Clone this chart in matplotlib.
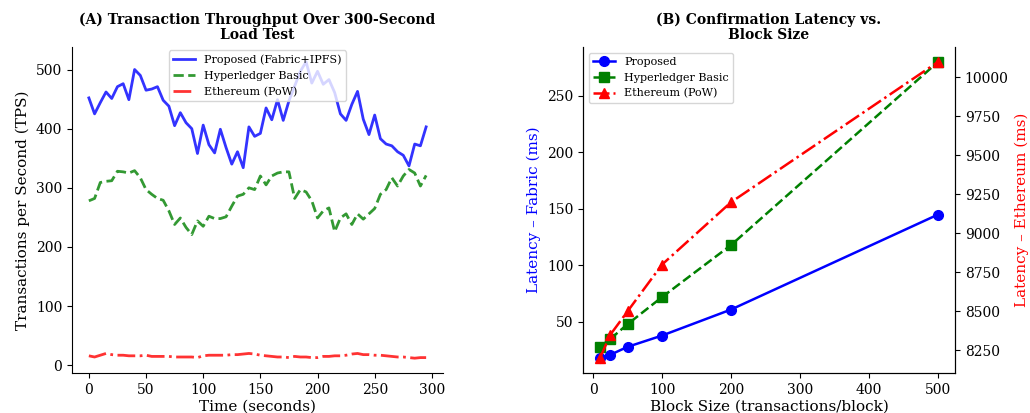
import matplotlib
matplotlib.use("Agg")
import matplotlib.pyplot as plt
import numpy as np

plt.rcParams['font.family'] = ['DejaVu Serif']

# ---- Panel A data ----
time_s = list(range(0, 300, 5))
proposed_tps = [452, 425, 444, 462, 451, 471, 476, 449, 500, 490,
                465, 467, 471, 448, 438, 405, 427, 410, 400, 358,
                406, 373, 359, 399, 368, 340, 361, 334, 403, 387,
                392, 435, 415, 449, 414, 447, 472, 497, 513, 477,
                497, 475, 483, 461, 425, 414, 441, 463, 416, 390,
                423, 383, 374, 371, 361, 355, 337, 374, 371, 403]
hyperledger_tps = [278, 282, 309, 311, 312, 328, 327, 325, 329, 317,
                   297, 289, 282, 279, 261, 238, 249, 233, 221, 244,
                   235, 252, 248, 248, 251, 269, 286, 289, 300, 297,
                   320, 305, 320, 325, 327, 327, 282, 297, 293, 278,
                   249, 261, 266, 226, 249, 256, 238, 256, 247, 256,
                   265, 289, 297, 317, 303, 320, 331, 325, 303, 321]
ethereum_tps = [16, 14, 17, 20, 18, 17, 17, 16, 16, 16,
                17, 15, 15, 15, 15, 14, 14, 14, 14, 13,
                16, 17, 17, 17, 17, 18, 18, 19, 20, 19,
                17, 16, 15, 14, 14, 13, 15, 14, 14, 13,
                13, 15, 15, 16, 16, 17, 19, 20, 18, 18,
                17, 17, 16, 15, 14, 14, 13, 12, 13, 13]

# ---- Panel B data ----
block_sizes = [10, 25, 50, 100, 200, 500]
fabric_latency = [18, 21, 28, 38, 61, 145]
hyperledger_latency = [28, 35, 48, 72, 118, 280]
ethereum_latency = [8200, 8350, 8500, 8800, 9200, 10100]

fig = plt.figure(figsize=(10.30, 4.13), dpi=100)
W, H = 1030, 413

axA = fig.add_axes([72 / W, (H - 373) / H, 371 / W, 326 / H])
axA.plot(time_s, proposed_tps, color='blue', alpha=0.8, lw=2,
         label='Proposed (Fabric+IPFS)')
axA.plot(time_s, hyperledger_tps, color='green', alpha=0.8, lw=2,
         ls='--', label='Hyperledger Basic')
axA.plot(time_s, ethereum_tps, color='red', alpha=0.8, lw=2,
         ls='-.', label='Ethereum (PoW)')
axA.set_title('(A) Transaction Throughput Over 300-Second\nLoad Test',
              fontsize=10, fontweight='bold', pad=6, linespacing=1.05)
axA.set_xlabel('Time (seconds)', fontsize=11, labelpad=2)
axA.set_ylabel('Transactions per Second (TPS)', fontsize=11)
axA.legend(loc='upper center', fontsize=8, borderaxespad=0.3)
axA.tick_params(labelsize=10)
axA.spines['top'].set_visible(False)
axA.spines['right'].set_visible(False)

axB = fig.add_axes([583 / W, (H - 373) / H, 372 / W, 326 / H])
l1, = axB.plot(block_sizes, fabric_latency, color='blue', lw=1.8,
               marker='o', ms=7, label='Proposed')
l2, = axB.plot(block_sizes, hyperledger_latency, color='green', lw=1.8,
               ls='--', marker='s', ms=7, label='Hyperledger Basic')
axB2 = axB.twinx()
l3, = axB2.plot(block_sizes, ethereum_latency, color='red', lw=1.8,
                ls='-.', marker='^', ms=7, label='Ethereum (PoW)')
axB.set_title('(B) Confirmation Latency vs.\nBlock Size',
              fontsize=10, fontweight='bold', pad=6, linespacing=1.05)
axB.set_xlabel('Block Size (transactions/block)', fontsize=11, labelpad=2)
axB.set_ylabel('Latency – Fabric (ms)', fontsize=11, color='blue')
axB2.set_ylabel('Latency – Ethereum (ms)', fontsize=11, color='red')
axB.tick_params(labelsize=10)
axB2.tick_params(labelsize=10)
axB.legend([l1, l2, l3], [l.get_label() for l in (l1, l2, l3)],
           loc='upper left', fontsize=8)
for a in (axB, axB2):
    a.spines['top'].set_visible(False)

fig.savefig('out.png', dpi=100)
